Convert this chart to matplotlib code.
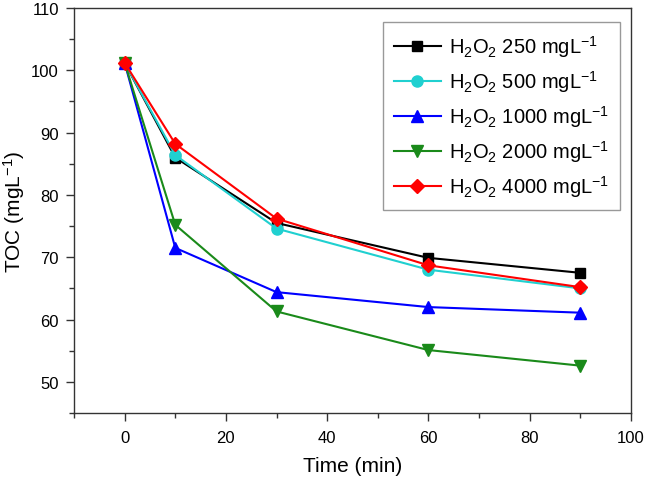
import matplotlib
matplotlib.use("Agg")
import matplotlib.pyplot as plt
from matplotlib.ticker import MultipleLocator

plt.rcParams['font.family'] = ['Liberation Sans', 'DejaVu Sans']
plt.rcParams['mathtext.default'] = 'regular'

time = [0, 10, 30, 60, 90]
toc_250 = [101.2, 86.0, 75.5, 69.9, 67.5]
toc_500 = [101.2, 86.4, 74.6, 68.0, 65.0]
toc_1000 = [101.2, 71.5, 64.4, 62.0, 61.1]
toc_2000 = [101.2, 75.2, 61.3, 55.1, 52.6]
toc_4000 = [101.2, 88.2, 76.2, 68.7, 65.2]
labels = [r'H$_2$O$_2$ 250 mgL$^{-1}$', r'H$_2$O$_2$ 500 mgL$^{-1}$',
          r'H$_2$O$_2$ 1000 mgL$^{-1}$', r'H$_2$O$_2$ 2000 mgL$^{-1}$',
          r'H$_2$O$_2$ 4000 mgL$^{-1}$']

series = [toc_250, toc_500, toc_1000, toc_2000, toc_4000]
colors = ['black', '#20d0d0', '#0000ff', '#1a8a1a', '#ff0000']
markers = ['s', 'o', '^', 'v', 'D']
msizes = [7, 8, 8, 8, 7]

fig = plt.figure(figsize=(6.46, 4.85), dpi=100)
ax = fig.add_axes([0.1146, 0.1464, 0.862, 0.835])

for y, c, m, ms, lab in zip(series, colors, markers, msizes, labels):
    ax.plot(time, y, color=c, marker=m, markersize=ms, linewidth=1.5, label=lab)

ax.set_xlim(-10, 100)
ax.set_ylim(45, 110)
ax.xaxis.set_major_locator(MultipleLocator(20))
ax.xaxis.set_minor_locator(MultipleLocator(10))
ax.yaxis.set_major_locator(MultipleLocator(10))
ax.yaxis.set_minor_locator(MultipleLocator(5))
ax.tick_params(which='both', direction='out', top=False, right=False,
               labelsize=12, color='#333333')
ax.tick_params(which='major', length=6, width=1)
ax.tick_params(which='minor', length=3.5, width=1)
ax.tick_params(axis='x', which='major', pad=6)
ax.tick_params(axis='y', which='major', pad=5)
ax.set_yticks([50, 60, 70, 80, 90, 100, 110])
for s in ax.spines.values():
    s.set_linewidth(1)
    s.set_color('#333333')

ax.set_xlabel('Time (min)', fontsize=15, labelpad=8)
ax.set_ylabel('TOC (mgL$^{-1}$)', fontsize=15, labelpad=3)

leg = ax.legend(loc='upper right', fontsize=14.5, frameon=True, fancybox=False,
                edgecolor='#808080', handlelength=2.3, handletextpad=0.4,
                borderpad=0.55, labelspacing=0.45, borderaxespad=0,
                bbox_to_anchor=(0.980, 0.965))
leg.get_frame().set_linewidth(1)

fig.savefig('out.png', dpi=100)
